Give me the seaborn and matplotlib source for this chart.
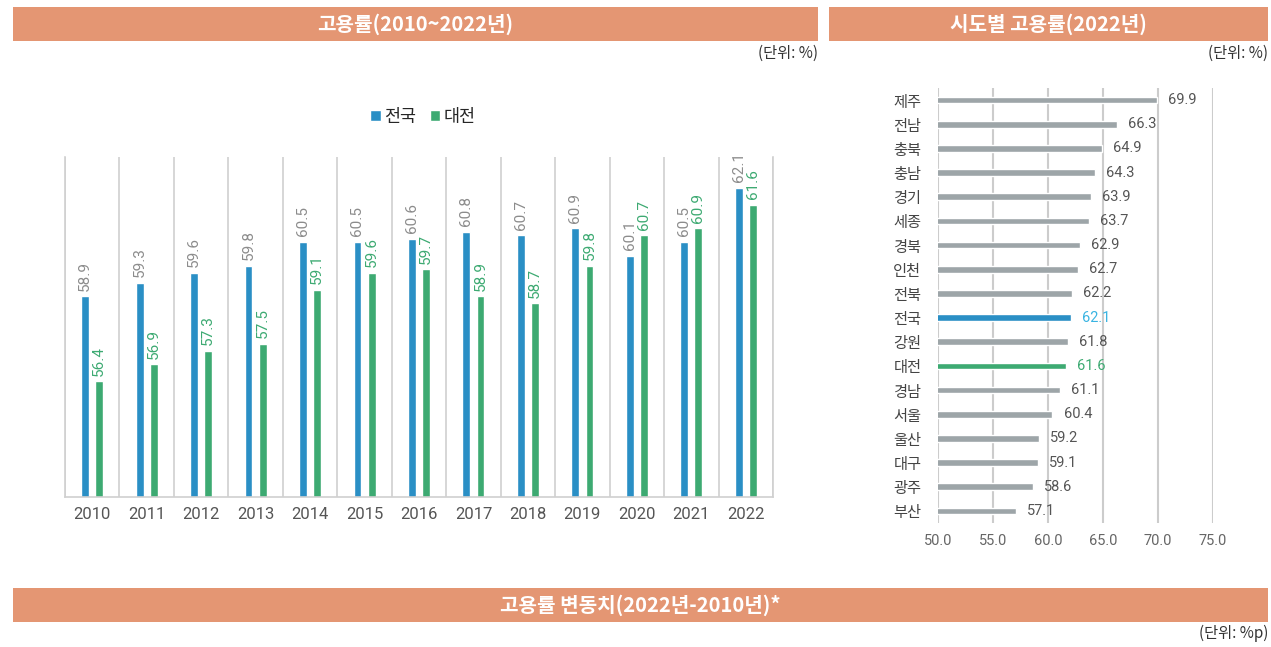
import matplotlib
matplotlib.use("Agg")
import matplotlib.pyplot as plt
from matplotlib.patches import Rectangle
import seaborn as sns
import pandas as pd
import numpy as np

years = ['2010', '2011', '2012', '2013', '2014', '2015', '2016',
         '2017', '2018', '2019', '2020', '2021', '2022']
national = [58.9, 59.3, 59.6, 59.8, 60.5, 60.5, 60.6, 60.8, 60.7, 60.9, 60.1, 60.5, 62.1]
daejeon = [56.4, 56.9, 57.3, 57.5, 59.1, 59.6, 59.7, 58.9, 58.7, 59.8, 60.7, 60.9, 61.6]

regions = ['제주', '전남', '충북', '충남', '경기', '세종', '경북', '인천', '전북',
           '전국', '강원', '대전', '경남', '서울', '울산', '대구', '광주', '부산']
rates = [69.9, 66.3, 64.9, 64.3, 63.9, 63.7, 62.9, 62.7, 62.2,
         62.1, 61.8, 61.6, 61.1, 60.4, 59.2, 59.1, 58.6, 57.1]

BLUE = '#2A8FC5'
GREEN = '#3DAA72'
GREY = '#9DA5A8'
BAND = '#E49673'
NUM = ['Roboto', 'Noto Sans CJK KR']

sns.set_style("white")
plt.rcParams['font.family'] = ['Noto Sans CJK KR', 'DejaVu Sans']

W, H = 1271, 647
fig = plt.figure(figsize=(W / 100, H / 100), dpi=100)


def px_axes(x0, y0, x1, y1):
    return fig.add_axes([x0 / W, 1 - y1 / H, (x1 - x0) / W, (y1 - y0) / H])


def band(x0, y0, x1, y1, text):
    fig.add_artist(Rectangle((x0 / W, 1 - y1 / H), (x1 - x0) / W, (y1 - y0) / H,
                             transform=fig.transFigure, facecolor=BAND, edgecolor='none'))
    fig.text((x0 + x1) / 2 / W, 1 - (y0 + y1) / 2 / H, text, color='white',
             fontsize=14.5, fontweight='bold', ha='center', va='center')


band(13, 7, 818, 41, '고용률(2010~2022년)')
band(829, 7, 1268, 41, '시도별 고용률(2022년)')
band(13, 588, 1268, 622, '고용률 변동치(2022년-2010년)*')
for x, y, t in [(818, 53, '(단위: %)'), (1268, 53, '(단위: %)'), (1268, 633, '(단위: %p)')]:
    fig.text(x / W, 1 - y / H, t, ha='right', va='center', fontsize=11, color='#333333')

# left: yearly employment rate
df = pd.DataFrame({'year': years * 2,
                   'rate': national + daejeon,
                   'area': ['전국'] * len(years) + ['대전'] * len(years)})
ax = px_axes(65, 157, 773, 497)
sns.barplot(data=df, x='year', y='rate', hue='area', palette={'전국': BLUE, '대전': GREEN},
            width=0.52, gap=0.45, saturation=1, ax=ax)
ax.set_ylim(53, 63)
ax.set_xlim(-0.5, 12.5)
ax.set_yticks([])
ax.set_xlabel('')
ax.set_ylabel('')
ax.set_xticks(np.arange(-0.5, 13), minor=True)
ax.grid(which='minor', axis='x', color='#D0D0D0', linewidth=1.2)
ax.tick_params(axis='x', which='both', length=0, labelsize=12, labelcolor='#555555', pad=7)
for lab in ax.get_xticklabels():
    lab.set_family(NUM)
ax.spines['top'].set_visible(False)
for s in ['left', 'right', 'bottom']:
    ax.spines[s].set_color('#D0D0D0')
    ax.spines[s].set_linewidth(1.2)
for cont, col in zip(ax.containers, ['#8C8C8C', GREEN]):
    ax.bar_label(cont, fmt='%.1f', rotation=90, padding=4, color=col, fontsize=11,
                 family=NUM, bbox=dict(facecolor='white', edgecolor='none', pad=1))
ax.legend(loc='center', bbox_to_anchor=(423 / W, 1 - 117 / H),
          bbox_transform=fig.transFigure, ncol=2, frameon=False, fontsize=12.5,
          handlelength=0.6, handleheight=0.6, handletextpad=0.2, columnspacing=0.8)

# right: regional rate 2022
rdf = pd.DataFrame({'region': regions, 'rate': rates})
pal = {r: GREY for r in regions}
pal['전국'] = BLUE
pal['대전'] = GREEN
ax2 = px_axes(938, 88, 1213, 523)
sns.barplot(data=rdf, y='region', x='rate', hue='region', palette=pal, legend=False,
            width=0.28, saturation=1, ax=ax2)
ax2.set_xlim(50, 75)
ticks = [50, 55, 60, 65, 70, 75]
ax2.set_xticks(ticks)
ax2.set_xticklabels([f'{v:.1f}' for v in ticks], family=NUM)
ax2.set_xlabel('')
ax2.set_ylabel('')
ax2.grid(axis='x', color='#CCCCCC', linewidth=1.5)
ax2.set_axisbelow(True)
ax2.tick_params(axis='x', length=0, labelsize=10.5, labelcolor='#666666', pad=8)
ax2.tick_params(axis='y', length=0, labelsize=11, labelcolor='#444444', pad=12)
for s in ax2.spines.values():
    s.set_visible(False)
for cont, r in zip(ax2.containers, regions):
    col = '#3AB4E2' if r == '전국' else (GREEN if r == '대전' else '#555555')
    ax2.bar_label(cont, fmt='%.1f', padding=8, color=col, fontsize=10.5, family=NUM)

fig.savefig('out.png', dpi=100)
